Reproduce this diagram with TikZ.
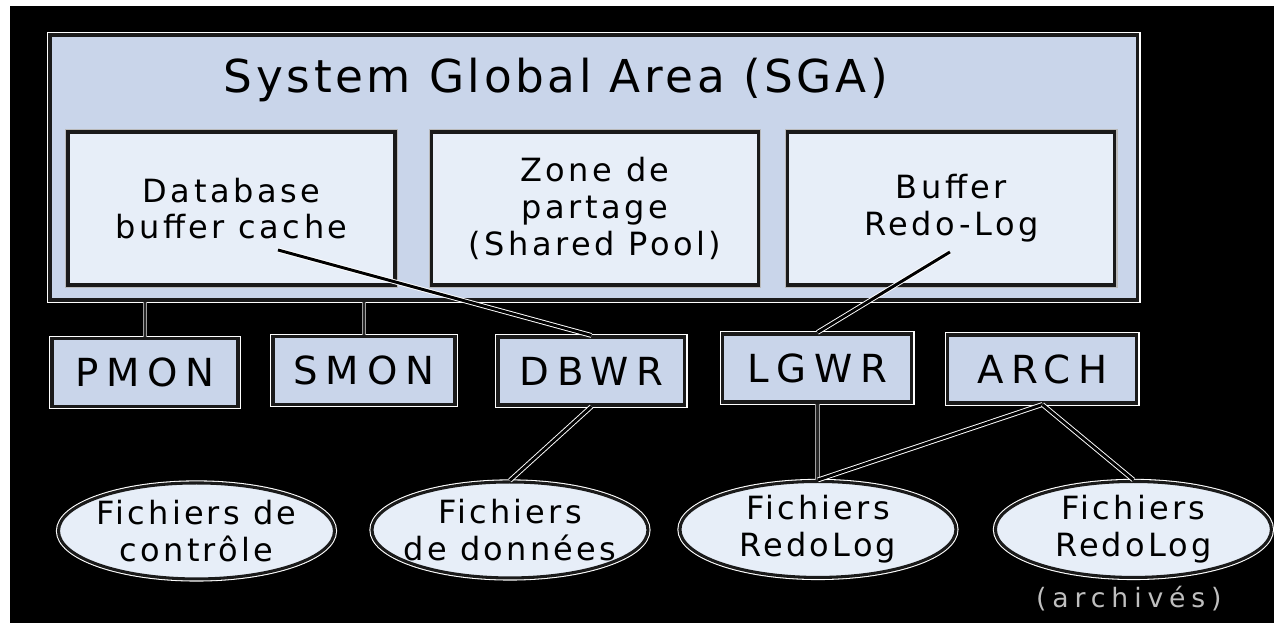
\documentclass[tikz,border=0pt]{standalone}
\usepackage{fontspec}
\setmainfont{DejaVu Sans}
\newfontfamily\titlefont[LetterSpace=8]{DejaVu Sans}
\newfontfamily\innerfont[LetterSpace=11]{DejaVu Sans}
\newfontfamily\procfont[LetterSpace=20]{DejaVu Sans}
\newfontfamily\filefont[LetterSpace=10]{DejaVu Sans}
\newfontfamily\notefont[LetterSpace=22]{DejaVu Sans}
\newcommand\tightlines{\lineskiplimit=-50pt\relax\lineskip=0pt\relax}
\usetikzlibrary{shapes.geometric}
\definecolor{sgafill}{HTML}{C9D5EA}
\definecolor{boxfill}{HTML}{E7EEF8}
\definecolor{edge}{HTML}{1A1A1A}
\begin{document}
\begin{tikzpicture}[x=0.75pt,y=-0.75pt,
  framed/.style={draw=edge, line width=2.3pt, preaction={draw=#1, line width=3.9pt}},
  framed/.default=white,
  sgabox/.style={framed, fill=sgafill, minimum width=1088*0.75pt, minimum height=265*0.75pt, inner sep=0pt},
  innerbox/.style={framed=gray!55, fill=boxfill, minimum width=327*0.75pt, minimum height=153*0.75pt, inner sep=0pt, align=center,
    font=\fontsize{24}{27.5}\selectfont\innerfont\tightlines},
  procbox/.style={framed, fill=sgafill, minimum height=68*0.75pt, inner sep=0pt,
    font=\fontsize{29}{34}\selectfont\procfont},
  filenode/.style={ellipse, framed, fill=boxfill, minimum width=276*0.75pt, minimum height=96*0.75pt, inner sep=-40pt, align=center,
    font=\fontsize{24}{27.5}\selectfont\filefont\tightlines},
  link/.style={draw=white, double=black, line width=0.7pt, double distance=2.2pt},
  glink/.style={draw=gray!75, double=black!85, line width=1pt, double distance=1.6pt}
]
% background
\fill[white] (0,0) rectangle (1274,623);
\fill[black] (10,6) rectangle (1274,623);

% SGA
\node[sgabox] (SGA) at (594,167.5) {};
\node[anchor=base, inner sep=0pt, font=\fontsize{34}{40}\selectfont\titlefont] (title) at (556,93) {System Global Area (SGA)};

\node[innerbox] (dbc) at (231.5,208.5) {Database\\buffer cache};
\node[innerbox] (zone) at (595,208.5) {Zone de\\partage\\(Shared Pool)};
\node[innerbox] (rlb) at (951.5,208.5) {Buffer\\Redo-Log};

% processes
\node[procbox, minimum width=186*0.75pt] (PMON) at (145,372.5) {PMON};
\node[procbox, minimum width=182*0.75pt] (SMON) at (364,370.5) {SMON};
\node[procbox, minimum width=187*0.75pt] (DBWR) at (591.5,371) {DBWR};
\node[procbox, minimum width=189*0.75pt] (LGWR) at (817.5,368) {LGWR};
\node[procbox, minimum width=189*0.75pt] (ARCH) at (1042.5,369) {ARCH};

% files
\node[filenode] (ctrl) at (196.5,531) {Fichiers de\\contrôle};
\node[filenode] (data) at (510,530) {Fichiers\\de données};
\node[filenode] (redo1) at (818,529.5) {Fichiers\\RedoLog};
\node[filenode] (redo2) at (1133.5,529.5) {Fichiers\\RedoLog};
\node[inner sep=0pt, text=white!75!black, font=\fontsize{20}{24}\selectfont\notefont] (note) at (1129,599) {(archivés)};

% connectors
\coordinate (dbcStart) at (278,250);
\coordinate (rlbStart) at (950,252);
\draw[glink] (PMON.north) -- (PMON.north |- SGA.south);
\draw[glink] (SMON.north) -- (SMON.north |- SGA.south);
\draw[link] (dbcStart) -- (DBWR.north);
\draw[link] (rlbStart) -- (LGWR.north);
\draw[link] (DBWR.south) -- (data.north);
\draw[glink] (LGWR.south) -- (LGWR.south |- redo1.north);
\draw[link] (ARCH.south) -- (redo1.north);
\draw[link] (ARCH.south) -- (redo2.north);
\end{tikzpicture}
\end{document}
